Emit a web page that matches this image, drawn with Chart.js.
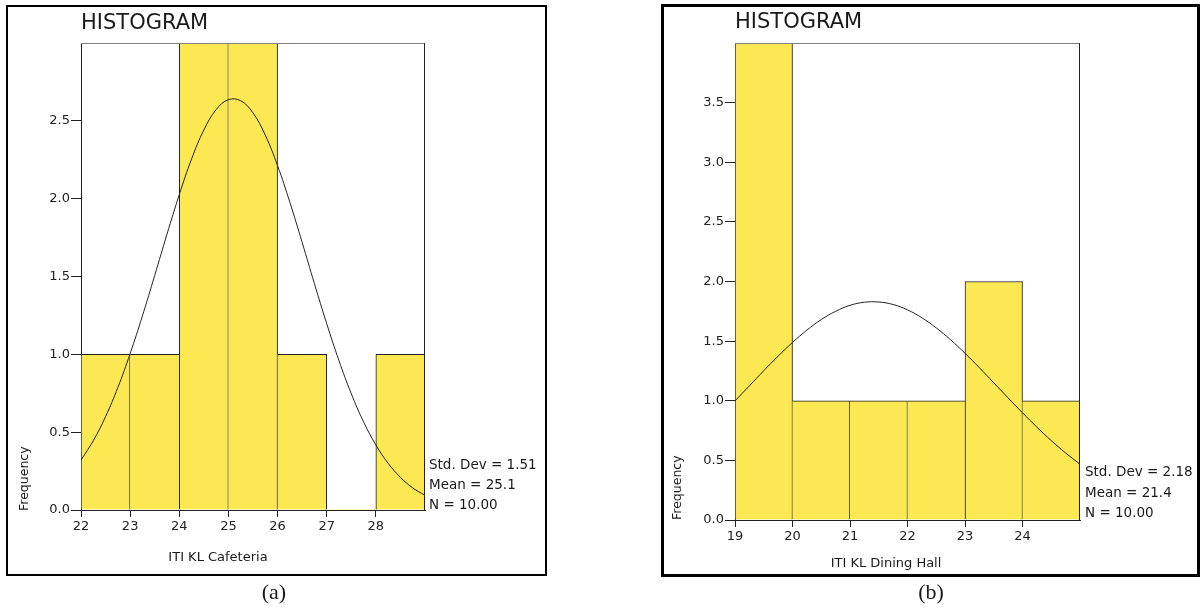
<!DOCTYPE html>
<html>
<head>
<meta charset="utf-8">
<script src="https://cdn.jsdelivr.net/npm/chart.js@4.4.1/dist/chart.umd.min.js"></script>
<style>
  body { margin: 0; background: #fff; width: 1200px; height: 610px; position: relative; overflow: hidden;
         font-family: "DejaVu Sans", Verdana, sans-serif; color: #1a1a1a; }
  .panel { position: absolute; box-sizing: border-box; border: 2px solid #000; background: #fff; }
  canvas.hist { position: absolute; top: 0; }
  .txt { position: absolute; white-space: nowrap; line-height: 1; }
  .title { font-size: 21px; }
  .stats { font-size: 13.5px; line-height: 20px; }
  .xtitle { font-size: 13px; width: 200px; text-align: center; }
  .ytitle { font-size: 12.5px; transform: rotate(-90deg); transform-origin: 0 0; }
  .caption { font-family: "Liberation Serif", "Times New Roman", serif; font-size: 22px; width: 100px; text-align: center; }
</style>
</head>
<body>

<div class="panel" style="left:6px; top:5px; width:541px; height:571px;"></div>
<div class="panel" style="left:661px; top:4px; width:539px; height:573px; border-width:3px;"></div>

<canvas id="cafeteriaChart" class="hist" width="560" height="580" style="left:0;"></canvas>
<canvas id="diningChart" class="hist" width="550" height="580" style="left:650px;"></canvas>

<div class="txt title" style="left:81px; top:12px;">HISTOGRAM</div>
<div class="txt stats" style="left:429px; top:454px;">Std. Dev = 1.51<br>Mean = 25.1<br>N = 10.00</div>
<div class="txt xtitle" style="left:118px; top:550px;">ITI KL Cafeteria</div>
<div class="txt ytitle" style="left:18px; top:511px;">Frequency</div>
<div class="txt caption" style="left:224px; top:581px;">(a)</div>

<div class="txt title" style="left:735px; top:11px;">HISTOGRAM</div>
<div class="txt stats" style="left:1085px; top:461px; line-height:20.5px;">Std. Dev = 2.18<br>Mean = 21.4<br>N = 10.00</div>
<div class="txt xtitle" style="left:786px; top:556px;">ITI KL Dining Hall</div>
<div class="txt ytitle" style="left:671px; top:520px;">Frequency</div>
<div class="txt caption" style="left:881px; top:581px;">(b)</div>

<script>
const BAR_FILL = '#fbe852';
const INK = '#222';
const binWidth = 1;

// ITI KL Cafeteria: bin lower edges and counts
const cafeBinStarts = [22, 23, 24, 25, 26, 27, 28];
const cafeCounts = [1, 1, 3, 3, 1, 0, 1];
// fitted normal curve (mean 25.1, sd 1.51), sampled every quarter unit
const cafeCurveX = [22, 22.25, 22.5, 22.75, 23, 23.25, 23.5, 23.75, 24, 24.25, 24.5, 24.75, 25, 25.25, 25.5,
                    25.75, 26, 26.25, 26.5, 26.75, 27, 27.25, 27.5, 27.75, 28, 28.25, 28.5, 28.75, 29];
const cafeCurveY = [0.321, 0.445, 0.600, 0.787, 1.005, 1.247, 1.507, 1.772, 2.026, 2.255, 2.441, 2.572, 2.636, 2.629, 2.551,
                    2.408, 2.212, 1.977, 1.719, 1.454, 1.197, 0.959, 0.747, 0.566, 0.418, 0.300, 0.210, 0.142, 0.094];

// ITI KL Dining Hall
const diningBinStarts = [19, 20, 21, 22, 23, 24];
const diningCounts = [4, 1, 1, 1, 2, 1];
// fitted normal curve (mean 21.4, sd 2.18)
const diningCurveX = [19, 19.25, 19.5, 19.75, 20, 20.25, 20.5, 20.75, 21, 21.25, 21.5, 21.75, 22,
                      22.25, 22.5, 22.75, 23, 23.25, 23.5, 23.75, 24, 24.25, 24.5, 24.75, 25];
const diningCurveY = [0.998, 1.125, 1.252, 1.374, 1.489, 1.592, 1.681, 1.750, 1.800, 1.826, 1.828, 1.807, 1.762,
                      1.696, 1.611, 1.511, 1.398, 1.277, 1.151, 1.024, 0.899, 0.779, 0.666, 0.562, 0.468];

const tickFont = { family: 'DejaVu Sans', size: 13 };

// only one outline between neighbouring bars: the taller one draws it
function edgeWidths(ctx) {
    const d = ctx.dataset.data;
    const i = ctx.dataIndex;
    const cur = d[i].y;
    if (!cur) return 0;
    const prev = i > 0 ? d[i - 1].y : 0;
    const next = i < d.length - 1 ? d[i + 1].y : 0;
    return { top: 1, bottom: 0, left: cur > prev ? 1 : 0, right: cur >= next ? 1 : 0 };
}

// top and right edges of the plot box
const plotFrame = {
    id: 'plotFrame',
    afterDraw(chart) {
        const { ctx, chartArea: a } = chart;
        ctx.save();
        ctx.lineWidth = 1;
        ctx.strokeStyle = '#808080';
        ctx.beginPath();
        ctx.moveTo(a.left, a.top + 0.5);
        ctx.lineTo(a.right, a.top + 0.5);
        ctx.stroke();
        ctx.strokeStyle = INK;
        ctx.beginPath();
        ctx.moveTo(a.right - 0.5, a.top);
        ctx.lineTo(a.right - 0.5, a.bottom);
        ctx.stroke();
        ctx.restore();
    }
};

function makeHistogram(canvasId, cfg) {
    const bars = cfg.binStarts.map((b, i) => ({ x: b + binWidth / 2, y: cfg.counts[i] }));
    const curve = cfg.curveX.map((x, i) => ({ x: x, y: cfg.curveY[i] }));

    return new Chart(document.getElementById(canvasId).getContext('2d'), {
        type: 'bar',
        data: {
            datasets: [{
                type: 'line',
                data: curve,
                borderColor: INK,
                borderWidth: 1,
                pointRadius: 0,
                fill: false,
                tension: 0.4,
                order: 0
            }, {
                type: 'bar',
                data: bars,
                backgroundColor: BAR_FILL,
                borderColor: '#1e1e1e',
                borderWidth: edgeWidths,
                borderSkipped: false,
                barPercentage: 1,
                categoryPercentage: 1,
                grouped: false,
                order: 1
            }]
        },
        options: {
            responsive: false,
            animation: false,
            events: [],
            layout: { padding: { top: 43, right: cfg.padRight, bottom: 0, left: 0 } },
            plugins: { legend: { display: false }, tooltip: { enabled: false } },
            scales: {
                x: {
                    type: 'linear',
                    min: cfg.xMin,
                    max: cfg.xMax,
                    offset: false,
                    ticks: { stepSize: 1, font: tickFont, color: INK, padding: 2, maxRotation: 0, autoSkip: false },
                    grid: { drawOnChartArea: false, tickLength: 7, color: INK, offset: false },
                    border: { color: INK },
                    afterBuildTicks: s => { s.ticks = s.ticks.filter(t => t.value < cfg.xMax); },
                    afterFit: s => { s.height = cfg.xAxisHeight; }
                },
                y: {
                    min: 0,
                    max: cfg.yMax,
                    ticks: { stepSize: 0.5, font: tickFont, color: INK, padding: 1, callback: v => v.toFixed(1) },
                    grid: { drawOnChartArea: false, tickLength: 10, color: INK },
                    border: { color: INK },
                    afterBuildTicks: s => { s.ticks = s.ticks.filter(t => t.value < cfg.yMax); },
                    afterFit: s => { s.width = cfg.yAxisWidth; }
                }
            }
        },
        plugins: [plotFrame]
    });
}

makeHistogram('cafeteriaChart', {
    binStarts: cafeBinStarts, counts: cafeCounts,
    curveX: cafeCurveX, curveY: cafeCurveY,
    xMin: 22, xMax: 29, yMax: 3,
    yAxisWidth: 81, xAxisHeight: 70, padRight: 135
});

makeHistogram('diningChart', {
    binStarts: diningBinStarts, counts: diningCounts,
    curveX: diningCurveX, curveY: diningCurveY,
    xMin: 19, xMax: 25, yMax: 4,
    yAxisWidth: 85, xAxisHeight: 60, padRight: 120
});
</script>
</body>
</html>
